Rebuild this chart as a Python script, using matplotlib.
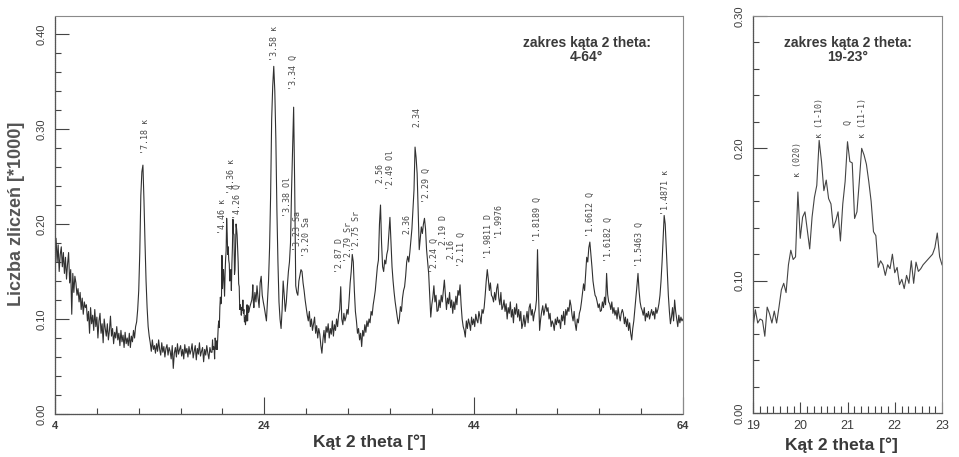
import numpy as np
import matplotlib
matplotlib.use("Agg")
import matplotlib.pyplot as plt
from matplotlib.ticker import MultipleLocator, FormatStrFormatter, FixedLocator

plt.rcParams['font.family'] = ['Liberation Sans', 'DejaVu Sans']

# ---------------- data ----------------
# main scan 4.0 - 18.9 deg, step 0.1
lo_start, lo_step = 4.0, 0.1
counts_lo = [
    0.172, 0.185, 0.160, 0.178, 0.150, 0.168, 0.176, 0.155, 0.170, 0.148,
    0.165, 0.142, 0.158, 0.170, 0.138, 0.152, 0.105, 0.148, 0.128, 0.145,
    0.138, 0.125, 0.132, 0.118, 0.128, 0.110, 0.122, 0.105, 0.118, 0.112,
    0.115, 0.098, 0.108, 0.085, 0.112, 0.095, 0.104, 0.088, 0.110, 0.092,
    0.102, 0.080, 0.098, 0.106, 0.085, 0.095, 0.075, 0.100, 0.090, 0.082,
    0.095, 0.078, 0.088, 0.103, 0.082, 0.090, 0.074, 0.086, 0.080, 0.092,
    0.078, 0.085, 0.072, 0.088, 0.076, 0.083, 0.070, 0.086, 0.074, 0.080,
    0.072, 0.085, 0.070, 0.082, 0.076, 0.088, 0.080, 0.092, 0.097, 0.110,
    0.130, 0.170, 0.230, 0.255, 0.262, 0.225, 0.180, 0.140, 0.112, 0.092,
    0.082, 0.075, 0.066, 0.078, 0.068, 0.072, 0.064, 0.074, 0.066, 0.078,
    0.068, 0.062, 0.075, 0.065, 0.071, 0.060, 0.069, 0.073, 0.062, 0.070,
    0.066, 0.058, 0.072, 0.048, 0.064, 0.070, 0.060, 0.074, 0.063, 0.068,
    0.072, 0.061, 0.068, 0.058, 0.073, 0.064, 0.069, 0.060, 0.071, 0.063,
    0.067, 0.074, 0.059, 0.066, 0.072, 0.057, 0.069, 0.063, 0.075, 0.061,
    0.066, 0.070, 0.055, 0.068, 0.062, 0.072, 0.064, 0.058, 0.070, 0.065,
]

# detailed scan 19.00 - 23.00 deg, step 0.05
det_start, det_step = 19.0, 0.05
counts_det = [
    0.065, 0.078, 0.068, 0.071, 0.070, 0.058, 0.080, 0.075, 0.068, 0.077,
    0.068, 0.080, 0.093, 0.098, 0.091, 0.112, 0.123, 0.116, 0.118, 0.167,
    0.132, 0.148, 0.152, 0.138, 0.124, 0.148, 0.163, 0.172, 0.206, 0.190,
    0.168, 0.176, 0.162, 0.158, 0.140, 0.145, 0.152, 0.130, 0.158, 0.175,
    0.205, 0.190, 0.189, 0.147, 0.152, 0.175, 0.200, 0.195, 0.188, 0.175,
    0.160, 0.137, 0.134, 0.110, 0.115, 0.112, 0.104, 0.112, 0.109, 0.120,
    0.106, 0.110, 0.097, 0.101, 0.094, 0.104, 0.098, 0.115, 0.098, 0.114,
    0.107, 0.109, 0.112, 0.114, 0.116, 0.118, 0.120, 0.125, 0.136, 0.118,
    0.112,
]

# main scan 23.1 - 64.0 deg, step 0.1
hi_start, hi_step = 23.1, 0.1
counts_hi = [
    0.128, 0.118, 0.135, 0.122, 0.112, 0.138, 0.145, 0.125, 0.118,
    0.112, 0.105, 0.098, 0.118, 0.140, 0.175, 0.230, 0.310, 0.345, 0.366,
    0.340, 0.290, 0.215, 0.160, 0.118, 0.100, 0.090, 0.110, 0.140, 0.125,
    0.108, 0.118, 0.135, 0.150, 0.160, 0.180, 0.235, 0.280, 0.323, 0.240,
    0.135, 0.128, 0.125, 0.140, 0.146, 0.152, 0.150, 0.138, 0.130, 0.120,
    0.112, 0.104, 0.098, 0.108, 0.092, 0.100, 0.088, 0.095, 0.102, 0.085,
    0.093, 0.080, 0.090, 0.084, 0.072, 0.064, 0.078, 0.088, 0.075, 0.092,
    0.086, 0.095, 0.080, 0.090, 0.084, 0.098, 0.082, 0.094, 0.088, 0.100,
    0.092, 0.105, 0.110, 0.134, 0.100, 0.094, 0.106, 0.098, 0.102, 0.110,
    0.105, 0.120, 0.138, 0.150, 0.168, 0.160, 0.130, 0.108, 0.098, 0.085,
    0.090, 0.078, 0.085, 0.071, 0.088, 0.082, 0.094, 0.086, 0.098, 0.092,
    0.100, 0.096, 0.108, 0.104, 0.115, 0.122, 0.130, 0.142, 0.155, 0.162,
    0.200, 0.220, 0.180, 0.155, 0.150, 0.162, 0.158, 0.168, 0.173, 0.190,
    0.207, 0.180, 0.155, 0.140, 0.128, 0.118, 0.110, 0.102, 0.095, 0.100,
    0.113, 0.108, 0.122, 0.130, 0.134, 0.145, 0.160, 0.166, 0.160, 0.170,
    0.183, 0.195, 0.215, 0.236, 0.281, 0.270, 0.253, 0.215, 0.173, 0.185,
    0.197, 0.190, 0.200, 0.206, 0.195, 0.173, 0.160, 0.148, 0.125, 0.102,
    0.115, 0.123, 0.135, 0.118, 0.125, 0.108, 0.109, 0.120, 0.112, 0.125,
    0.118, 0.130, 0.141, 0.125, 0.110, 0.122, 0.116, 0.128, 0.112, 0.120,
    0.106, 0.118, 0.110, 0.124, 0.115, 0.130, 0.125, 0.136, 0.115, 0.100,
    0.092, 0.088, 0.081, 0.098, 0.090, 0.100, 0.095, 0.088, 0.102, 0.094,
    0.100, 0.092, 0.105, 0.099, 0.096, 0.108, 0.102, 0.095, 0.110, 0.106,
    0.112, 0.125, 0.140, 0.152, 0.142, 0.130, 0.138, 0.125, 0.123, 0.118,
    0.128, 0.120, 0.132, 0.137, 0.122, 0.115, 0.128, 0.110, 0.113, 0.120,
    0.108, 0.116, 0.100, 0.112, 0.106, 0.118, 0.102, 0.110, 0.096, 0.112,
    0.105, 0.116, 0.102, 0.110, 0.098, 0.108, 0.090, 0.095, 0.104, 0.092,
    0.100, 0.108, 0.096, 0.112, 0.116, 0.104, 0.110, 0.098, 0.106, 0.110,
    0.120, 0.173, 0.125, 0.088, 0.100, 0.108, 0.114, 0.104, 0.110, 0.116,
    0.108, 0.112, 0.100, 0.106, 0.092, 0.098, 0.095, 0.088, 0.100, 0.094,
    0.102, 0.096, 0.099, 0.090, 0.104, 0.098, 0.108, 0.094, 0.110, 0.104,
    0.112, 0.108, 0.120, 0.114, 0.104, 0.098, 0.108, 0.095, 0.088, 0.100,
    0.096, 0.106, 0.110, 0.118, 0.128, 0.137, 0.130, 0.148, 0.165, 0.160,
    0.175, 0.181, 0.168, 0.155, 0.140, 0.132, 0.125, 0.123, 0.118, 0.112,
    0.116, 0.108, 0.109, 0.118, 0.112, 0.123, 0.115, 0.148, 0.126, 0.118,
    0.116, 0.110, 0.118, 0.106, 0.112, 0.104, 0.109, 0.100, 0.112, 0.104,
    0.098, 0.106, 0.110, 0.106, 0.095, 0.102, 0.092, 0.100, 0.088, 0.096,
    0.085, 0.078, 0.090, 0.098, 0.110, 0.123, 0.135, 0.148, 0.130, 0.118,
    0.112, 0.109, 0.104, 0.112, 0.098, 0.106, 0.102, 0.108, 0.100, 0.105,
    0.110, 0.104, 0.108, 0.100, 0.112, 0.106, 0.110, 0.116, 0.125, 0.140,
    0.160, 0.185, 0.209, 0.200, 0.175, 0.148, 0.125, 0.108, 0.095, 0.102,
    0.112, 0.098, 0.120, 0.108, 0.100, 0.092, 0.104, 0.096, 0.102, 0.098,
    0.100,
]

# peak labels, main pattern: (text, 2theta, bottom of label)
main_labels = ["'7.18 κ", "'4.46 κ", "'4.36 κ", "'4.26 Q", "'3.58 κ", "'3.34 Q",
               "'3.38 Ol", "'3.23 Sa", "'3.20 Sa", "'2.87 D", "'2.79 Sr", "'2.75 Sr",
               "2.56", "'2.49 Ol", "2.36", "2.34", "'2.29 Q", "'2.24 Q", "2.19 D",
               "2.16", "'2.11 Q", "'1.9811 D", "'1.9976", "'1.8189 Q", "'1.6612 Q",
               "'1.6182 Q", "'1.5463 Q", "'1.4871 κ"]
main_label_x = [12.6, 20.05, 20.85, 21.45, 25.0, 26.75,
                26.2, 27.2, 28.0, 31.2, 32.0, 32.85,
                35.05, 36.07, 37.6, 38.55, 39.45, 40.3, 41.1,
                41.85, 42.85, 45.45, 46.3, 50.05, 55.2,
                56.85, 59.8, 62.3]
main_label_y = [0.274, 0.190, 0.232, 0.205, 0.372, 0.341,
                0.207, 0.172, 0.165, 0.148, 0.160, 0.172,
                0.243, 0.236, 0.190, 0.302, 0.222, 0.148, 0.178,
                0.163, 0.155, 0.163, 0.186, 0.181, 0.186,
                0.160, 0.155, 0.210]

det_labels = ["κ (020)", "κ (1-10)", "Q", "κ (11-1)"]
det_label_x = [19.95, 20.41, 21.01, 21.31]
det_label_y = [0.178, 0.208, 0.218, 0.208]

# ---------------- build series ----------------
x_lo = lo_start + lo_step * np.arange(len(counts_lo))
x_det = det_start + det_step * np.arange(len(counts_det))
x_hi = hi_start + hi_step * np.arange(len(counts_hi))
x_full = np.concatenate([x_lo, x_det, x_hi])
y_full = np.concatenate([counts_lo, counts_det, counts_hi])

W, H = 959, 457
fig = plt.figure(figsize=(W / 100, H / 100), dpi=100)
fig.patch.set_facecolor('white')

ax1 = fig.add_axes([55 / W, 1 - 414 / H, 628 / W, 398 / H])
ax2 = fig.add_axes([753 / W, 1 - 413 / H, 189 / W, 397 / H])

line_c = '#303030'
txt_c = '#3c3c3c'
mono = ['DejaVu Sans Mono']


def style(ax):
    for s in ['top', 'right']:
        ax.spines[s].set_linestyle((0, (1, 1)))
        ax.spines[s].set_color('#8a8a8a')
        ax.spines[s].set_linewidth(0.8)
    for s in ['left', 'bottom']:
        ax.spines[s].set_linestyle((0, (1, 0.6)))
        ax.spines[s].set_color('#555555')
        ax.spines[s].set_linewidth(0.9)
    ax.tick_params(which='both', direction='in', color='#444444', width=0.8,
                   top=False, right=False)
    ax.tick_params(which='major', length=10)
    ax.tick_params(which='minor', length=4)
    ax.tick_params(axis='y', labelrotation=90, labelsize=8, labelcolor=txt_c, pad=6)
    ax.yaxis.set_major_formatter(FormatStrFormatter('%.2f'))
    ax.yaxis.set_minor_locator(MultipleLocator(0.02))


# ---- left panel ----
ax1.plot(x_full, y_full, color=line_c, lw=0.8)
ax1.set_xlim(4, 64)
ax1.set_ylim(0, 0.419)
ax1.xaxis.set_major_locator(FixedLocator([4, 24, 44, 64]))
ax1.xaxis.set_minor_locator(MultipleLocator(4))
ax1.yaxis.set_major_locator(FixedLocator([0.0, 0.1, 0.2, 0.3, 0.4]))
style(ax1)
ax1.tick_params(axis='x', which='major', length=12)
ax1.tick_params(axis='x', labelsize=8, labelcolor=txt_c, pad=5)
for lb in ax1.get_xticklabels():
    lb.set_fontweight('bold')

for t, x, y in zip(main_labels, main_label_x, main_label_y):
    ax1.text(x, y, t, rotation=90, ha='center', va='bottom', fontsize=6,
             family=mono, color='#4a4a4a', clip_on=False)

ax1.text(0.847, 0.915, "zakres kąta 2 theta:\n4-64°", transform=ax1.transAxes,
         ha='center', va='center', fontsize=10, fontweight='bold', color='#3a3a3a',
         linespacing=1.0)
ax1.text(0.5, -0.072, "Kąt 2 theta [°]", transform=ax1.transAxes, ha='center',
         va='center', fontsize=12.5, fontweight='bold', color='#3a3a3a')
fig.text(17 / W, 1 - 214 / H, "Liczba zliczeń [*1000]", rotation=90, ha='center',
         va='center', fontsize=13, fontweight='bold', color='#555555')

# ---- right panel ----
ax2.plot(x_det, counts_det, color='#444444', lw=0.8)
ax2.set_xlim(19, 23)
ax2.set_ylim(0, 0.30)
ax2.xaxis.set_major_locator(MultipleLocator(1))
ax2.xaxis.set_minor_locator(MultipleLocator(1 / 7))
ax2.yaxis.set_major_locator(FixedLocator([0.0, 0.1, 0.2, 0.3]))
style(ax2)
ax2.tick_params(axis='x', which='major', length=8)
ax2.tick_params(axis='x', which='minor', length=5)
ax2.tick_params(axis='x', labelsize=9, labelcolor=txt_c, pad=5)

for t, x, y in zip(det_labels, det_label_x, det_label_y):
    ax2.text(x, y, t, rotation=90, ha='center', va='bottom', fontsize=6,
             family=mono, color='#4a4a4a')

ax2.text(0.503, 0.914, "zakres kąta 2 theta:\n19-23°", transform=ax2.transAxes,
         ha='center', va='center', fontsize=10, fontweight='bold', color='#3a3a3a',
         linespacing=1.0)
ax2.text(0.47, -0.082, "Kąt 2 theta [°]", transform=ax2.transAxes, ha='center',
         va='center', fontsize=12.5, fontweight='bold', color='#3a3a3a')

for ax in (ax1, ax2):
    for lb in ax.get_yticklabels():
        lb.set_va('center')

fig.savefig('out.png', dpi=100, facecolor='white')
